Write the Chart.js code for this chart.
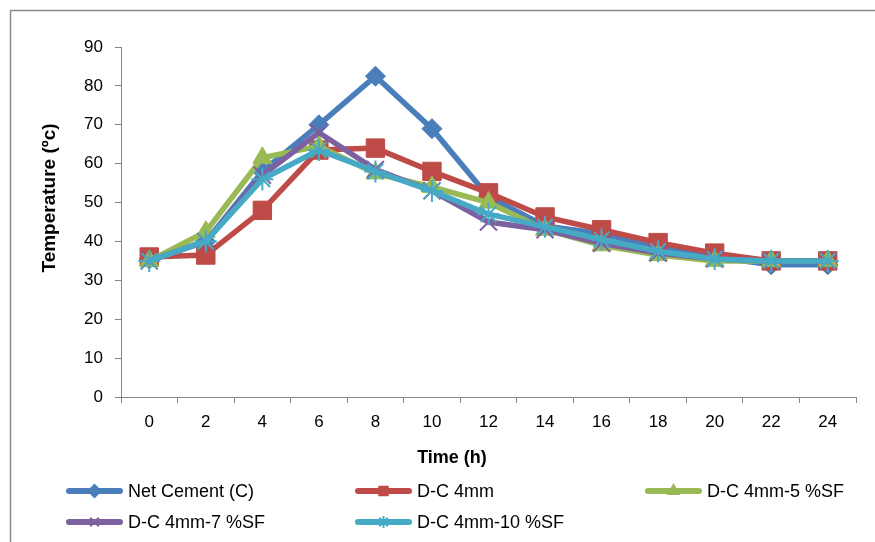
<!DOCTYPE html>
<html>
<head>
<meta charset="utf-8">
<script src="https://cdn.jsdelivr.net/npm/chart.js@4/dist/chart.umd.min.js"></script>
<style>
html,body{margin:0;padding:0;background:#fff;}
canvas{display:block;}
</style>
</head>
<body>
<canvas id="c" width="875" height="542"></canvas>
<script>
// ---- data ----
const timeLabels = ["0","2","4","6","8","10","12","14","16","18","20","22","24"];
const yTicks = [0,10,20,30,40,50,60,70,80,90];
const seriesNames = ["Net Cement (C)","D-C 4mm","D-C 4mm-5 %SF","D-C 4mm-7 %SF","D-C 4mm-10 %SF"];
const netCement = [35.5, 40, 58, 70, 82.5, 69, 51.5, 44, 42, 38.5, 36, 34, 34];
const dc4mm     = [36, 36.5, 48, 63.5, 64, 58, 52.5, 46.3, 43, 39.7, 37, 35, 35];
const dc4mm5SF  = [35, 42.5, 61.5, 64.5, 57.5, 54, 50, 43, 39, 36.5, 35, 35, 35];
const dc4mm7SF  = [35, 40, 57, 68, 58.5, 53, 45, 43, 39.5, 37, 35.5, 35, 35];
const dc4mm10SF = [35, 40, 56, 63.5, 58, 53, 47, 43.8, 40.5, 37.5, 35.5, 35, 35];
const xTitle = "Time (h)";
const yTitle = "Temperature (\u00bac)";

// ---- styles ----
const colors = ["#4A7EBB","#BE4B48","#98B954","#7D60A0","#46AAC5"];
const markers = ["rectRot","rect","triangle","crossRot","star"];
const radii = [10, 13, 11, 12, 11];
const values = [netCement, dc4mm, dc4mm5SF, dc4mm7SF, dc4mm10SF];

const FONT = "'Liberation Sans', Arial, sans-serif";

const datasets = values.map((v, i) => ({
  label: seriesNames[i],
  data: v,
  borderColor: colors[i],
  backgroundColor: colors[i],
  borderWidth: 5.5,
  pointStyle: markers[i],
  pointRadius: radii[i],
  pointBorderWidth: (markers[i] === "crossRot" || markers[i] === "star") ? 2 : 1,
  pointBorderColor: colors[i],
  pointBackgroundColor: colors[i],
  tension: 0,
  order: 5 - i
}));

const framePlugin = {
  id: 'frame',
  beforeDraw(chart) {
    const ctx = chart.ctx;
    ctx.save();
    ctx.fillStyle = '#fff';
    ctx.fillRect(0, 0, chart.width, chart.height);
    ctx.strokeStyle = '#8a8a8a';
    ctx.lineWidth = 1.5;
    ctx.beginPath();
    ctx.moveTo(10.5, chart.height + 2);
    ctx.lineTo(10.5, 10.5);
    ctx.lineTo(chart.width + 2, 10.5);
    ctx.stroke();
    ctx.restore();
  }
};

const titlesLegendPlugin = {
  id: 'titlesLegend',
  afterDraw(chart) {
    const ctx = chart.ctx;
    ctx.save();
    // axis titles
    ctx.fillStyle = '#000';
    ctx.textAlign = 'center';
    ctx.textBaseline = 'middle';
    ctx.font = "bold 18px " + FONT;
    ctx.fillText(xTitle, 452, 458);
    ctx.save();
    ctx.translate(50, 198);
    ctx.rotate(-Math.PI / 2);
    ctx.font = "bold 19px " + FONT;
    ctx.fillText(yTitle, 0, 0);
    ctx.restore();

    // legend
    const cols = [67, 356, 646];
    const rows = [491, 522];
    chart.data.datasets.forEach((ds, i) => {
      const x0 = cols[i % 3];
      const y = rows[Math.floor(i / 3)];
      ctx.strokeStyle = ds.borderColor;
      ctx.lineWidth = 6;
      ctx.lineCap = 'round';
      ctx.beginPath();
      ctx.moveTo(x0 + 2, y);
      ctx.lineTo(x0 + 53, y);
      ctx.stroke();
      ctx.lineCap = 'butt';
      ctx.fillStyle = ds.borderColor;
      ctx.strokeStyle = ds.borderColor;
      ctx.lineWidth = 2;
      Chart.helpers.drawPoint(ctx, {pointStyle: ds.pointStyle, rotation: 0, borderWidth: 2, radius: 6}, x0 + 27.5, y);
      ctx.fillStyle = '#000';
      ctx.font = "18px " + FONT;
      ctx.textAlign = 'left';
      ctx.textBaseline = 'middle';
      ctx.fillText(ds.label, x0 + 61, y + 1);
    });
    ctx.restore();
  }
};

new Chart(document.getElementById('c'), {
  type: 'line',
  data: { labels: timeLabels, datasets },
  plugins: [framePlugin, titlesLegendPlugin],
  options: {
    responsive: false,
    animation: false,
    events: [],
    layout: { padding: { left: 40, right: 19, top: 47, bottom: 105 } },
    plugins: {
      legend: { display: false },
      tooltip: { enabled: false },
      title: { display: false }
    },
    scales: {
      x: {
        type: 'category',
        offset: true,
        grid: { display: true, offset: true, drawOnChartArea: false, drawTicks: true, tickLength: 6, color: '#868686', lineWidth: 1 },
        border: { display: true, color: '#868686', width: 1 },
        ticks: { color: '#000', font: { family: FONT, size: 17 }, padding: 9, maxRotation: 0, autoSkip: false },
        afterFit(scale) { scale.height = 40; }
      },
      y: {
        min: yTicks[0],
        max: yTicks[yTicks.length - 1],
        afterBuildTicks(scale) { scale.ticks = yTicks.map(v => ({ value: v })); },
        grid: { display: true, drawOnChartArea: false, drawTicks: true, tickLength: 6, color: '#868686', lineWidth: 1 },
        border: { display: true, color: '#868686', width: 1 },
        ticks: { color: '#000', font: { family: FONT, size: 17 }, padding: 12 },
        afterFit(scale) { scale.width = 81; }
      }
    }
  }
});
</script>
</body>
</html>
